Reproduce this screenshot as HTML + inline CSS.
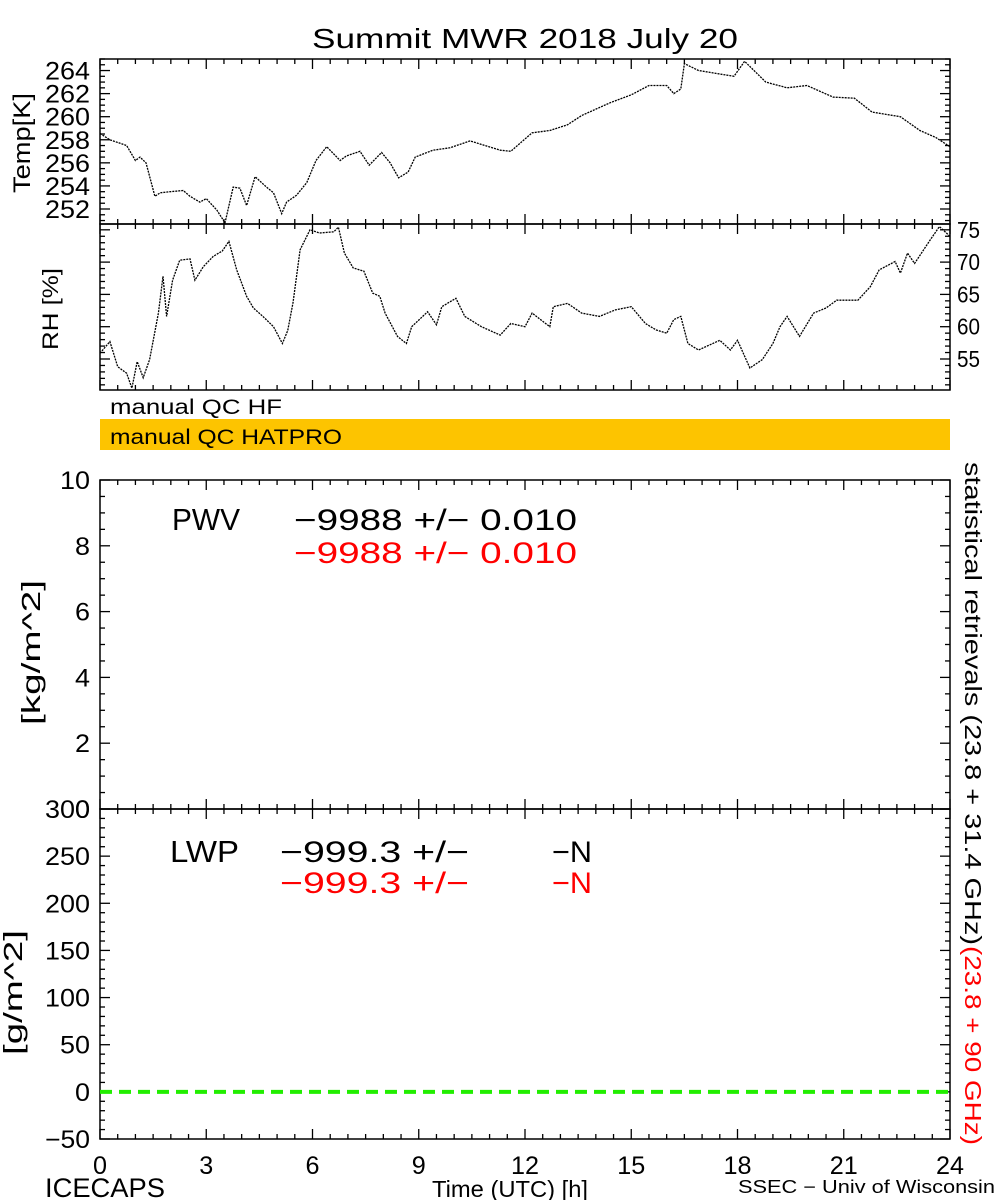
<!DOCTYPE html>
<html><head><meta charset="utf-8"><style>
html,body{margin:0;padding:0;background:#fff;width:1000px;height:1200px;overflow:hidden}
svg{display:block}
text{font-family:"Liberation Sans",sans-serif}
</style></head><body>
<svg id="chart" width="1000" height="1200" viewBox="0 0 1000 1200" xmlns="http://www.w3.org/2000/svg">
<text x="312" y="48" font-size="28" textLength="426" lengthAdjust="spacingAndGlyphs">Summit MWR 2018 July 20</text>
<g id="temp"></g>
<g id="rh"></g>
<g><text x="110" y="414" font-size="21" textLength="172" lengthAdjust="spacingAndGlyphs">manual QC HF</text></g>
<g><rect x="100" y="419" width="850" height="31" fill="#fdc400"/><text x="110" y="444" font-size="21" textLength="232" lengthAdjust="spacingAndGlyphs">manual QC HATPRO</text></g>
<g id="pwv"></g>
<g id="lwp"></g>
<text transform="translate(30,193) rotate(-90)" font-size="24" textLength="100" lengthAdjust="spacingAndGlyphs">Temp[K]</text>
<text transform="translate(58,350) rotate(-90)" font-size="22" textLength="82" lengthAdjust="spacingAndGlyphs">RH [%]</text>
<text transform="translate(40,725) rotate(-90)" font-size="26" textLength="145" lengthAdjust="spacingAndGlyphs">[kg/m^2]</text>
<text transform="translate(22,1055) rotate(-90)" font-size="26" textLength="125" lengthAdjust="spacingAndGlyphs">[g/m^2]</text>
<text x="172" y="530" font-size="31" textLength="68" lengthAdjust="spacingAndGlyphs">PWV</text>
<text x="294" y="530" font-size="30" textLength="283" lengthAdjust="spacingAndGlyphs">−9988 +/− 0.010</text>
<text x="294" y="563" font-size="30" fill="#ff0000" textLength="283" lengthAdjust="spacingAndGlyphs">−9988 +/− 0.010</text>
<text x="170" y="862" font-size="31" textLength="69" lengthAdjust="spacingAndGlyphs">LWP</text>
<text x="280" y="862" font-size="30" textLength="189" lengthAdjust="spacingAndGlyphs">−999.3 +/−</text>
<text x="552" y="862" font-size="30" textLength="40" lengthAdjust="spacingAndGlyphs">−N</text>
<text x="280" y="893" font-size="30" fill="#ff0000" textLength="189" lengthAdjust="spacingAndGlyphs">−999.3 +/−</text>
<text x="552" y="893" font-size="30" fill="#ff0000" textLength="40" lengthAdjust="spacingAndGlyphs">−N</text>
<text transform="translate(965,462) rotate(90)" font-size="23" textLength="483" lengthAdjust="spacingAndGlyphs">statistical retrievals (23.8 + 31.4 GHz)</text>
<text transform="translate(965,946) rotate(90)" font-size="23" fill="#ff0000" textLength="199" lengthAdjust="spacingAndGlyphs">(23.8 + 90 GHz)</text>
<text x="432" y="1197" font-size="23" textLength="156" lengthAdjust="spacingAndGlyphs">Time (UTC) [h]</text>
<text x="45" y="1197" font-size="27" textLength="120" lengthAdjust="spacingAndGlyphs">ICECAPS</text>
<text x="738" y="1193" font-size="18" textLength="257" lengthAdjust="spacingAndGlyphs">SSEC − Univ of Wisconsin</text>
</svg>
<script>
// Temperature series
const tempHours=[0,0.28,0.75,1.0,1.13,1.3,1.55,1.7,1.98,2.35,2.54,2.82,3.0,3.3,3.53,3.76,3.95,4.14,4.38,4.7,4.9,5.13,5.27,5.55,5.84,6.1,6.4,6.78,6.96,7.34,7.6,7.95,8.19,8.43,8.7,8.9,9.4,9.88,10.45,11.3,11.6,12.2,12.7,13.2,13.6,14.4,15.0,15.5,16.0,16.2,16.4,16.5,16.9,17.5,17.9,18.2,18.8,19.4,19.96,20.7,21.3,21.8,22.6,23.15,23.6,24];
const tempValues=[258.55,258.0,257.5,256.2,256.5,256.0,253.1,253.4,253.5,253.6,253.1,252.6,252.9,251.9,250.8,253.9,253.8,252.3,254.8,253.9,253.4,251.6,252.6,253.2,254.3,256.2,257.4,256.2,256.6,257.0,255.8,256.9,256.0,254.7,255.2,256.5,257.1,257.3,257.9,257.1,257.0,258.6,258.8,259.3,260.1,261.2,261.9,262.7,262.7,262.0,262.4,264.6,264.0,263.7,263.5,264.8,263.0,262.5,262.7,261.7,261.6,260.4,260.0,258.8,258.2,257.4];
const tempTicks=[252,254,256,258,260,262,264];
// RH series
const rhHours=[0,0.28,0.5,0.75,0.9,1.05,1.22,1.4,1.65,1.78,1.88,2.05,2.25,2.54,2.68,2.92,3.2,3.45,3.64,3.86,4.14,4.33,4.6,4.9,5.15,5.3,5.45,5.65,5.93,6.2,6.6,6.73,6.9,7.15,7.45,7.7,7.9,8.05,8.4,8.65,8.8,9.25,9.5,9.65,10.05,10.3,10.77,11.3,11.6,12.0,12.2,12.7,12.8,13.2,13.6,14.1,14.55,15.0,15.4,15.7,16.0,16.2,16.4,16.6,16.9,17.5,17.8,18.0,18.35,18.7,19.0,19.2,19.4,19.75,20.15,20.5,20.8,21.4,21.75,22.0,22.45,22.6,22.8,23.0,23.45,23.7,24];
const rhValues=[55.9,57.7,53.8,52.8,50.5,54.6,52.1,54.9,62.1,67.8,61.6,67.2,70.3,70.5,67.2,69.3,70.9,71.7,73.2,68.8,64.7,62.9,61.6,60.0,57.4,59.4,63.7,71.9,75.0,74.5,74.7,75.4,71.4,69.1,68.6,65.2,64.7,62.1,58.5,57.4,60.0,62.3,60.3,63.1,64.4,61.6,60.0,58.7,60.5,60.0,62.1,60.0,63.1,63.6,62.1,61.6,62.6,63.1,60.5,59.5,59.0,61.1,61.6,57.4,56.4,57.9,56.4,57.9,53.6,54.9,57.4,60.0,61.6,58.5,62.1,62.9,64.1,64.1,66.2,68.8,70.1,68.3,71.4,69.8,73.5,75.5,74.0];
const rhTicks=[55,60,65,70,75];
// PWV / LWP
const pwvTicks=[0,2,4,6,8,10];
const lwpTicks=[-50,0,50,100,150,200,250,300];
const lwpHours=[0,24];
const lwpValues=[0,0];
const xTicks=[0,3,6,9,12,15,18,21,24];

const NS='http://www.w3.org/2000/svg';
const X0=100,X1=950;
const xs=h=>X0+(h/24)*(X1-X0);
function mk(parent,tag,attrs){const e=document.createElementNS(NS,tag);for(const k in attrs)e.setAttribute(k,attrs[k]);parent.appendChild(e);return e;}
function ln(g,x1,y1,x2,y2,c,w){return mk(g,'line',{x1,y1,x2,y2,stroke:c||'#000','stroke-width':w||1.3});}
function lbl(v){return String(v).replace('-','−');}

function panel(id,top,bot,ymin,ymax,minorStep,majorStep){
  const g=document.getElementById(id);
  const ys=v=>bot-(v-ymin)/(ymax-ymin)*(bot-top);
  const r=mk(g,'rect',{x:X0,y:top,width:X1-X0,height:bot-top,fill:'none',stroke:'#000','stroke-width':1.5});
  
  
  for(let h=0;h<=24.001;h+=0.5){const maj=Math.abs(h/3-Math.round(h/3))<1e-6;const L=maj?10:5;
    ln(g,xs(h),bot,xs(h),bot-L);ln(g,xs(h),top,xs(h),top+L);}
  const start=Math.ceil(ymin/minorStep)*minorStep;
  for(let v=start;v<=ymax+1e-6;v+=minorStep){const maj=Math.abs(v/majorStep-Math.round(v/majorStep))<1e-6;const L=maj?10:5;
    const y=ys(v);ln(g,X0,y,X0+L,y);ln(g,X1,y,X1-L,y);}
  return {g,ys};
}
function ticksLeft(g,ys,vals,x,fs){vals.forEach(v=>{const s=lbl(v);const w=15*s.length;
  const t=mk(g,'text',{x:x-w,y:ys(v)+fs*0.36,'font-size':fs,textLength:w,lengthAdjust:'spacingAndGlyphs'});t.textContent=s;
  
  });}
function series(g,hours,vals,ys,name){
  const pts=hours.map((h,i)=>xs(h).toFixed(1)+','+ys(vals[i]).toFixed(1)).join(' ');
  const p=mk(g,'polyline',{points:pts,fill:'none',stroke:'#000','stroke-width':1.3,'stroke-dasharray':'2 1'});
  
  
}
// Temp
const T=panel('temp',59,224,250.7,265.0,0.5,2);
ticksLeft(T.g,T.ys,tempTicks,90,25);
const cp=mk(T.g,'clipPath',{id:'ctemp'});mk(cp,'rect',{x:X0,y:59,width:850,height:165});
const tg=mk(T.g,'g',{'clip-path':'url(#ctemp)'});
series(tg,tempHours,tempValues,T.ys,'temp-line');
// RH
const R=panel('rh',224,390,50.2,75.9,1,5);
rhTicks.forEach(v=>{const t=mk(R.g,'text',{x:957,y:R.ys(v)+8,'font-size':23,textLength:23,lengthAdjust:'spacingAndGlyphs'});t.textContent=v;
  
  });
const cp2=mk(R.g,'clipPath',{id:'crh'});mk(cp2,'rect',{x:X0,y:224,width:850,height:166});
const rg=mk(R.g,'g',{'clip-path':'url(#crh)'});
series(rg,rhHours,rhValues,R.ys,'rh-line');
// PWV
const P=panel('pwv',480,809,0,10,0.5,2);
ticksLeft(P.g,P.ys,pwvTicks,90,25);
// LWP
const W=panel('lwp',809,1139,-50,300,10,50);
ticksLeft(W.g,W.ys,lwpTicks,90,25);
const lp=mk(W.g,'polyline',{points:lwpHours.map((h,i)=>xs(h)+','+W.ys(lwpValues[i])).join(' '),fill:'none',stroke:'#22ee00','stroke-width':4,'stroke-dasharray':'12 7'});


// X ticks
const svg=document.getElementById('chart');
xTicks.forEach(h=>{const s=String(h);const w=14*s.length;
  const t=mk(svg,'text',{x:xs(h)-w/2,y:1174,'font-size':25,textLength:w,lengthAdjust:'spacingAndGlyphs'});t.textContent=s;
  
  });
</script>
</body></html>
